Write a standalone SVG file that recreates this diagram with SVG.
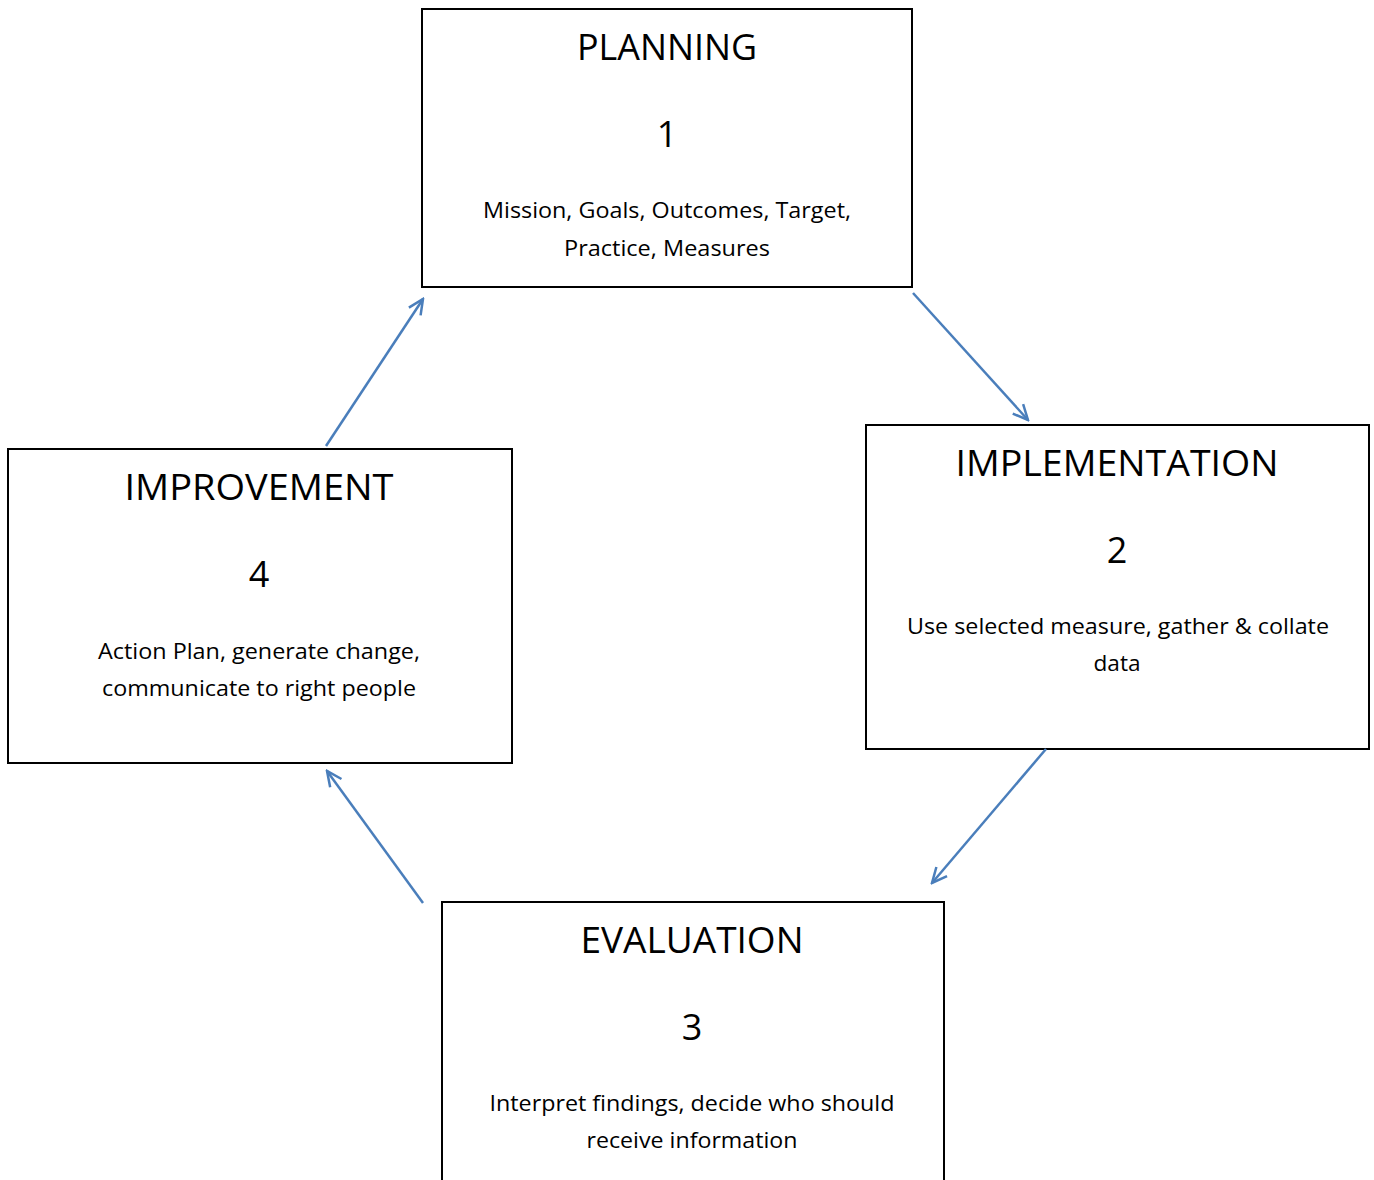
<svg xmlns="http://www.w3.org/2000/svg" width="1374" height="1180" viewBox="0 0 1374 1180">
<style>
.box{fill:#fff;stroke:#000;stroke-width:2}
.t{font-family:"Open Sans","Liberation Sans",sans-serif;fill:#000;text-anchor:middle}
.h{font-size:36px}
.s{font-size:21px}
.c{fill:none;stroke:#4A7EBB;stroke-width:2.5}
</style>
<defs>
<marker id="ah" viewBox="0 0 20 20" refX="18" refY="10" markerWidth="20" markerHeight="20" markerUnits="userSpaceOnUse" orient="auto">
<polyline points="3,3 18,10 3,17" fill="none" stroke="#4A7EBB" stroke-width="2.5"/>
</marker>
</defs>
<rect width="1374" height="1180" fill="#fff"/>
<g id="planning">
<rect class="box" x="422" y="9" width="490" height="278"/>
<text class="t h" x="667" y="60" textLength="180" lengthAdjust="spacingAndGlyphs">PLANNING</text>
<text class="t h" x="667" y="147">1</text>
<text class="t s" x="667" y="218" textLength="368" lengthAdjust="spacingAndGlyphs">Mission, Goals, Outcomes, Target,</text>
<text class="t s" x="667" y="256" textLength="206" lengthAdjust="spacingAndGlyphs">Practice, Measures</text>
</g>
<g id="implementation">
<rect class="box" x="866" y="425" width="503" height="324"/>
<text class="t h" x="1117" y="476" textLength="323" lengthAdjust="spacingAndGlyphs">IMPLEMENTATION</text>
<text class="t h" x="1117" y="563">2</text>
<text class="t s" x="1118" y="634" textLength="422" lengthAdjust="spacingAndGlyphs">Use selected measure, gather &amp; collate</text>
<text class="t s" x="1117" y="671" textLength="47" lengthAdjust="spacingAndGlyphs">data</text>
</g>
<g id="evaluation">
<rect class="box" x="442" y="902" width="502" height="300"/>
<text class="t h" x="692" y="953" textLength="223" lengthAdjust="spacingAndGlyphs">EVALUATION</text>
<text class="t h" x="692" y="1040">3</text>
<text class="t s" x="692" y="1111" textLength="405" lengthAdjust="spacingAndGlyphs">Interpret findings, decide who should</text>
<text class="t s" x="692" y="1148" textLength="211" lengthAdjust="spacingAndGlyphs">receive information</text>
</g>
<g id="improvement">
<rect class="box" x="8" y="449" width="504" height="314"/>
<text class="t h" x="259" y="500" textLength="269" lengthAdjust="spacingAndGlyphs">IMPROVEMENT</text>
<text class="t h" x="259" y="587">4</text>
<text class="t s" x="259" y="659" textLength="322" lengthAdjust="spacingAndGlyphs">Action Plan, generate change,</text>
<text class="t s" x="259" y="696" textLength="314" lengthAdjust="spacingAndGlyphs">communicate to right people</text>
</g>
<g id="connectors">
<line class="c" x1="913" y1="293" x2="1028" y2="420" marker-end="url(#ah)"/>
<line class="c" x1="1046" y1="749" x2="932" y2="883" marker-end="url(#ah)"/>
<line class="c" x1="423" y1="903" x2="327" y2="771" marker-end="url(#ah)"/>
<line class="c" x1="326" y1="446" x2="423" y2="299" marker-end="url(#ah)"/>
</g>
</svg>
